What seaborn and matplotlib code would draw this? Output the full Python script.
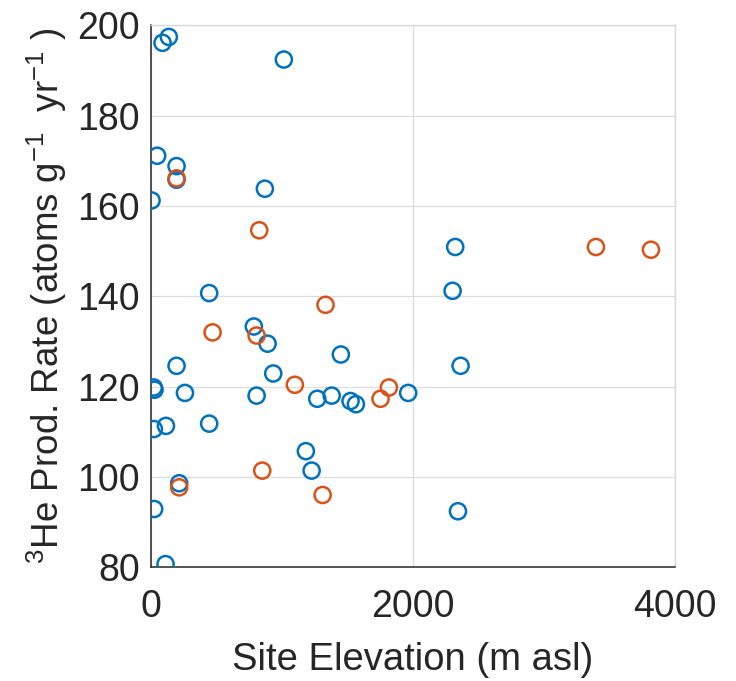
import numpy as np
import pandas as pd
import matplotlib
matplotlib.use("Agg")
import matplotlib.pyplot as plt
import seaborn as sns

# values
blue_elev = [89, 137, 1015, 48, 196, 196, 5, 870, 445, 786, 891, 1450, 196, 934,
             22, 28, 260, 807, 1270, 1380, 23, 115, 445, 1183, 1227, 216, 25, 112,
             2303, 2323, 2364, 1524, 1565, 1964, 2344]
blue_rate = [196.1, 197.4, 192.4, 171.1, 168.8, 165.8, 161.2, 163.8, 140.7, 133.3,
             129.5, 127.1, 124.6, 122.9, 119.8, 119.3, 118.6, 118.0, 117.3, 118.0,
             110.6, 111.3, 111.8, 105.7, 101.4, 98.6, 92.9, 80.7,
             141.2, 150.9, 124.6, 116.8, 116.1, 118.6, 92.4]
orange_elev = [196, 827, 1333, 471, 807, 1099, 850, 216, 1311, 1817, 1753, 3397, 3817]
orange_rate = [166.1, 154.6, 138.1, 132.0, 131.3, 120.4, 101.4, 97.7, 96.0, 119.8,
               117.3, 150.9, 150.3]

x_ticks = [0, 2000, 4000]
y_ticks = [80, 100, 120, 140, 160, 180, 200]

df = pd.concat([
    pd.DataFrame({'elev': blue_elev, 'rate': blue_rate, 'grp': 'A'}),
    pd.DataFrame({'elev': orange_elev, 'rate': orange_rate, 'grp': 'B'}),
], ignore_index=True)

sns.set_style('white')
plt.rcParams['font.family'] = ['Liberation Sans', 'DejaVu Sans']
plt.rcParams['mathtext.fontset'] = 'custom'
plt.rcParams['mathtext.rm'] = 'Liberation Sans'

fig = plt.figure(figsize=(7.36, 6.81), dpi=100)
ax = fig.add_axes([0.205, 0.167, 0.712, 0.796])

sns.scatterplot(data=df, x='elev', y='rate', hue='grp',
                palette={'A': '#0072BD', 'B': '#D95319'},
                s=135, marker='o', legend=False, ax=ax, zorder=3)
for coll in ax.collections:
    fc = coll.get_facecolors()
    coll.set_edgecolors(fc)
    coll.set_facecolors('none')
    coll.set_linewidths(1.8)

ax.set_xlim(0, 4000)
ax.set_ylim(80, 200)
ax.set_xticks(x_ticks)
ax.set_yticks(y_ticks)
ax.grid(True, color='#dcdcdc', linewidth=0.9)
ax.set_axisbelow(True)

for s in ['left', 'bottom']:
    ax.spines[s].set_color('#262626')
    ax.spines[s].set_linewidth(1.1)
for s in ['top', 'right']:
    ax.spines[s].set_color('#d8d8d8')
    ax.spines[s].set_linewidth(1.0)

ax.tick_params(axis='both', direction='in', length=5, width=1.1,
               color='#262626', labelsize=27, labelcolor='#262626')
ax.tick_params(axis='x', pad=16)
ax.tick_params(axis='y', pad=8)

ax.set_xlabel('Site Elevation (m asl)', fontsize=27.5, color='#262626', labelpad=12)
ax.set_ylabel(r'$^{3}$He Prod. Rate (atoms g$^{-1}$  yr$^{-1}$ )',
              fontsize=26.5, color='#262626', labelpad=6)

fig.savefig('out.png', dpi=100)
